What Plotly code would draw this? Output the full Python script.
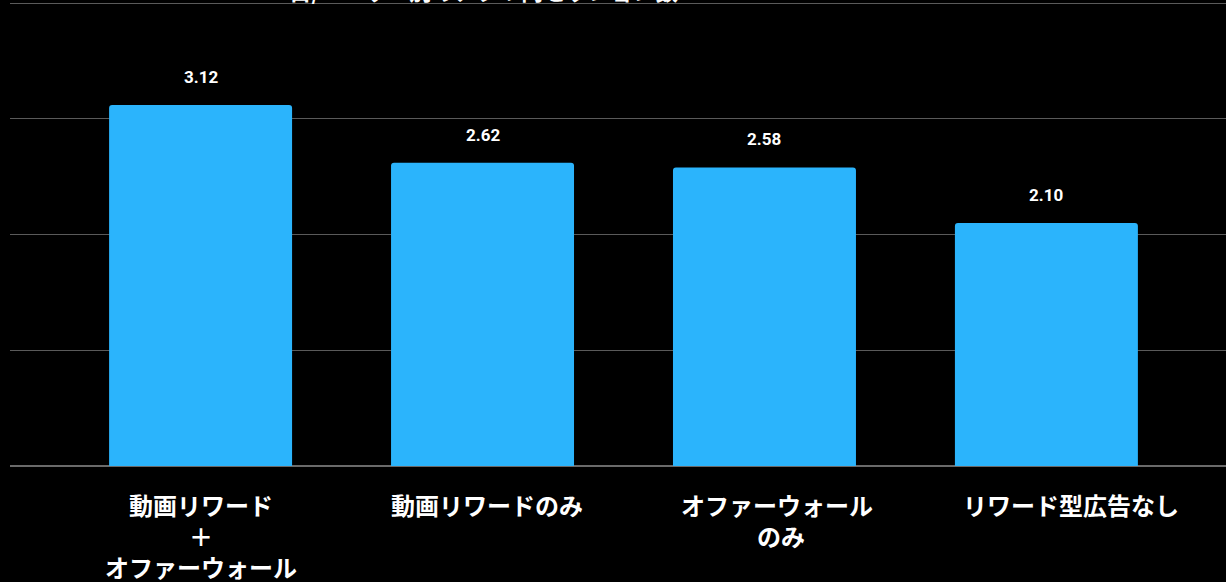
import plotly.graph_objects as go

categories = ["動画リワード<br>＋<br>オファーウォール", "動画リワードのみ", "オファーウォール<br>のみ", "リワード型広告なし"]
values = [3.12, 2.62, 2.58, 2.10]
value_labels = ["3.12", "2.62", "2.58", "2.10"]
title_text = "日/ユーザー別のアプリ内セッション数"

FONT = "Noto Sans CJK JP"
BAR = "#2BB4FC"
GRID = "#5a5a5a"
label_xshift = [0, 4, 13, 25]  # pixel nudges of the category labels seen in the reference

fig = go.Figure()
fig.add_trace(go.Bar(
    x=list(range(len(categories))), y=values,
    marker=dict(color=BAR, line=dict(width=0)),
    width=0.649,
    hoverinfo="skip",
))
for i, (v, t) in enumerate(zip(values, value_labels)):
    fig.add_annotation(x=i, y=v, text=t, showarrow=False, yanchor="bottom",
                       yshift=16, font=dict(family="Roboto", size=17, color="white", weight="bold"))

# category labels, one annotation per line
for i, cat in enumerate(categories):
    for k, line in enumerate(cat.split("<br>")):
        fig.add_annotation(x=i, xref="x", yref="paper", y=0, yanchor="middle",
                           xshift=label_xshift[i] + (4 if (i == 2 and k == 1) else 0),
                           yshift=-(38 + 31 * k), text=line, showarrow=False,
                           font=dict(family=FONT, size=24, color="white", weight="bold"))

fig.add_annotation(xref="paper", yref="paper", x=0.389, y=1, xanchor="center", yanchor="bottom",
                   yshift=-6, text=title_text, showarrow=False,
                   font=dict(family=FONT, size=22.4, color="white", weight="bold"))

fig.update_layout(
    width=1226, height=582,
    paper_bgcolor="black", plot_bgcolor="black",
    margin=dict(l=10, r=0, t=2, b=116),
    showlegend=False,
    barcornerradius=3,
    xaxis=dict(
        range=[-0.676, 3.637], showgrid=False, zeroline=False, showline=False,
        showticklabels=False, ticks="",
    ),
    yaxis=dict(
        range=[0, 4.01], tickvals=[1, 2, 3, 4], showticklabels=False, showgrid=True,
        gridcolor=GRID, gridwidth=1, zeroline=True, zerolinecolor="#6a6a6a", zerolinewidth=1.5,
        showline=False, ticks="",
    ),
)

fig.write_html("out.html", config={"displayModeBar": False},
               post_script="document.body.style.margin='0';document.body.style.background='black';")
